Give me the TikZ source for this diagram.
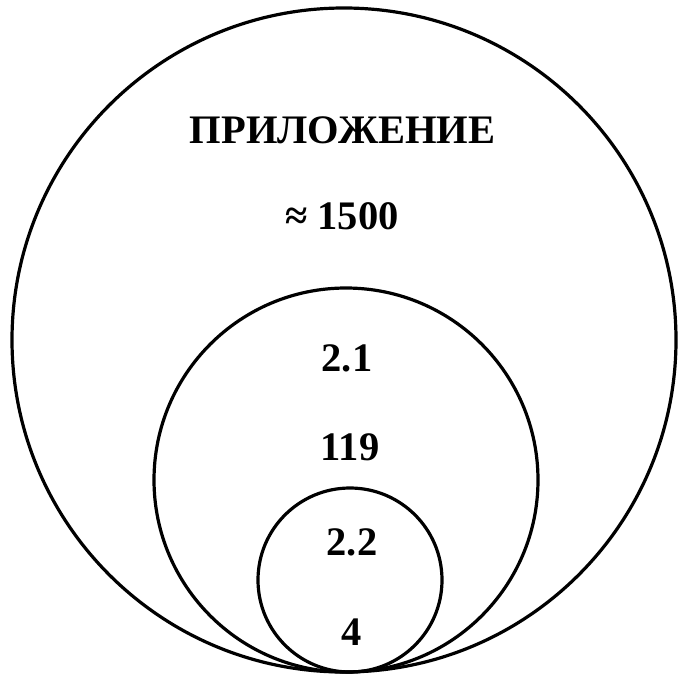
\documentclass[tikz,border=0pt]{standalone}
\usepackage{fontspec}
\setmainfont{Liberation Serif}
\begin{document}
\begin{tikzpicture}[x=1pt,y=-1pt,
  ring/.style={draw=black,line width=3.2pt},
  lbl/.style={anchor=base,inner sep=0pt,font=\fontsize{40.5}{42}\selectfont\bfseries}]
\useasboundingbox (0,0) rectangle (680,675);
\draw[ring] (344,340) circle[radius=332];
\draw[ring] (346,480) circle[radius=192];
\draw[ring] (350,580) circle[radius=92];
\node[lbl] (t1) at (342.5,143) {ПРИЛОЖЕНИЕ};
\node[lbl] (t2) at (342,229) {≈ 1500};
\node[lbl] (t3) at (347,371) {2.1};
\node[lbl] (t4) at (350,460) {119};
\node[lbl] (t5) at (352,555) {2.2};
\node[lbl] (t6) at (352,645) {4};
\end{tikzpicture}
\end{document}
